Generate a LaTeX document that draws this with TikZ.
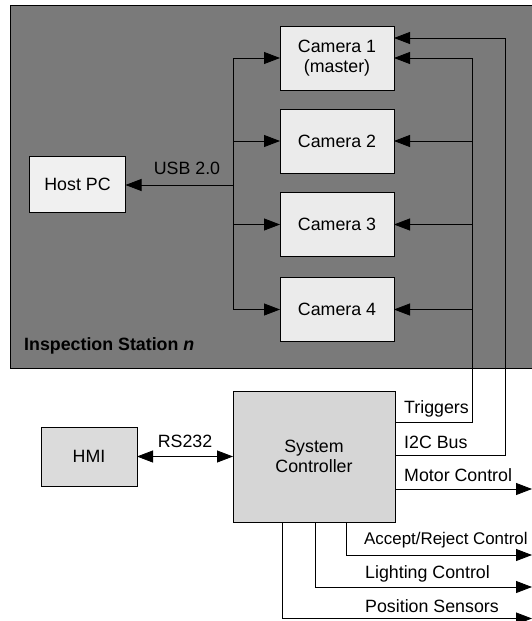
\documentclass[tikz,border=0pt]{standalone}
\usepackage{fontspec}
\setmainfont{Liberation Sans}
\usetikzlibrary{arrows.meta,calc}
\begin{document}
\begin{tikzpicture}[x=1pt,y=-1pt,
  every node/.style={font=\fontsize{17.8}{20.5}\selectfont},
  box/.style={draw=black,line width=0.9pt,inner sep=0pt,outer sep=0pt,align=center,fill=black!8},
  cam/.style={box,minimum width=114pt,minimum height=64pt},
  ln/.style={line width=0.8pt,draw=black},
  arr/.style={ln,-{Triangle[length=16pt,width=12pt]}},
  darr/.style={ln,{Triangle[length=16pt,width=12pt]}-{Triangle[length=16pt,width=12pt]}},
  lbl/.style={inner sep=0pt,anchor=west}]
\useasboundingbox (0,0) rectangle (532,621);
\clip (0,0) rectangle (532,621);
% station background
\path[fill=black!52,draw=black,line width=0.9pt] (10,5) rectangle (545,368);
\node[lbl,font=\fontsize{17.8}{20.5}\selectfont\bfseries] (stn) at (24,346) {Inspection Station \textit{n}};
% cameras
\node[cam] (c1) at (337,58) {Camera 1\\(master)};
\node[cam] (c2) at (337,141) {Camera 2};
\node[cam] (c3) at (337,224.5) {Camera 3};
\node[cam] (c4) at (337,309.5) {Camera 4};
\node[box,minimum width=96pt,minimum height=56pt,fill=black!6] (pc) at (77.5,184) {Host PC};
% USB bus
\coordinate (bt) at (233,58);
\coordinate (bb) at (233,309.5);
\coordinate (bpc) at (233,185);
\draw[ln] (bt) -- (bb);
\draw[arr] (bpc) -- (pc.east |- bpc);
\node[inner sep=0pt] (usb) at (187,168) {USB 2.0};
\draw[arr] (bt) -- (c1.west);
\draw[arr] (bt |- c2.west) -- (c2.west);
\draw[arr] (bt |- c3.west) -- (c3.west);
\draw[arr] (bb) -- (c4.west);
% controller
\node[box,minimum width=162pt,minimum height=131pt,fill=black!16] (sc) at (314,456.5) {System\\Controller};
\node[box,minimum width=96pt,minimum height=59pt,fill=black!14] (hmi) at (89,456.5) {HMI};
\draw[darr] (hmi.east) -- (sc.west |- hmi.east);
\node[inner sep=0pt] (rs) at (185,441) {RS232};
% triggers
\coordinate (tr0) at (395,422);
\coordinate (tr1) at (472,422);
\coordinate (tr2) at (472,58);
\draw[ln] (tr0) -- (tr1) -- (tr2);
\draw[arr] (tr2) -- (c1.east);
\draw[arr] (tr2 |- c2.east) -- (c2.east);
\draw[arr] (tr2 |- c3.east) -- (c3.east);
\draw[arr] (tr2 |- c4.east) -- (c4.east);
\node[lbl] (ltr) at (404,409) {Triggers};
% I2C
\coordinate (i0) at (395,455);
\coordinate (i1) at (505,455);
\coordinate (i2) at (505,38);
\draw[ln] (i0) -- (i1) -- (i2);
\draw[arr] (i2) -- (c1.east |- i2);
\node[lbl] (li2c) at (404,442) {I2C Bus};
% motor
\coordinate (m0) at (395,489);
\coordinate (m1) at (532,489);
\draw[arr] (m0) -- (m1);
\node[lbl] (lm) at (404,475) {Motor Control};
% bottom outputs
\coordinate (a0) at (346,522);
\coordinate (a1) at (346,555);
\coordinate (a2) at (532,555);
\draw[arr] (a0) -- (a1) -- (a2);
\node[lbl,font=\fontsize{16.9}{19.5}\selectfont] (la) at (364,540) {Accept/Reject Control};
\coordinate (l0) at (315,522);
\coordinate (l1) at (315,587);
\coordinate (l2) at (532,587);
\draw[arr] (l0) -- (l1) -- (l2);
\node[lbl] (ll) at (365,574) {Lighting Control};
\coordinate (p0) at (282,522);
\coordinate (p1) at (282,618.5);
\coordinate (p2) at (532,618.5);
\draw[arr] (p0) -- (p1) -- (p2);
\node[lbl] (lp) at (365,606) {Position Sensors};
\end{tikzpicture}
\end{document}
